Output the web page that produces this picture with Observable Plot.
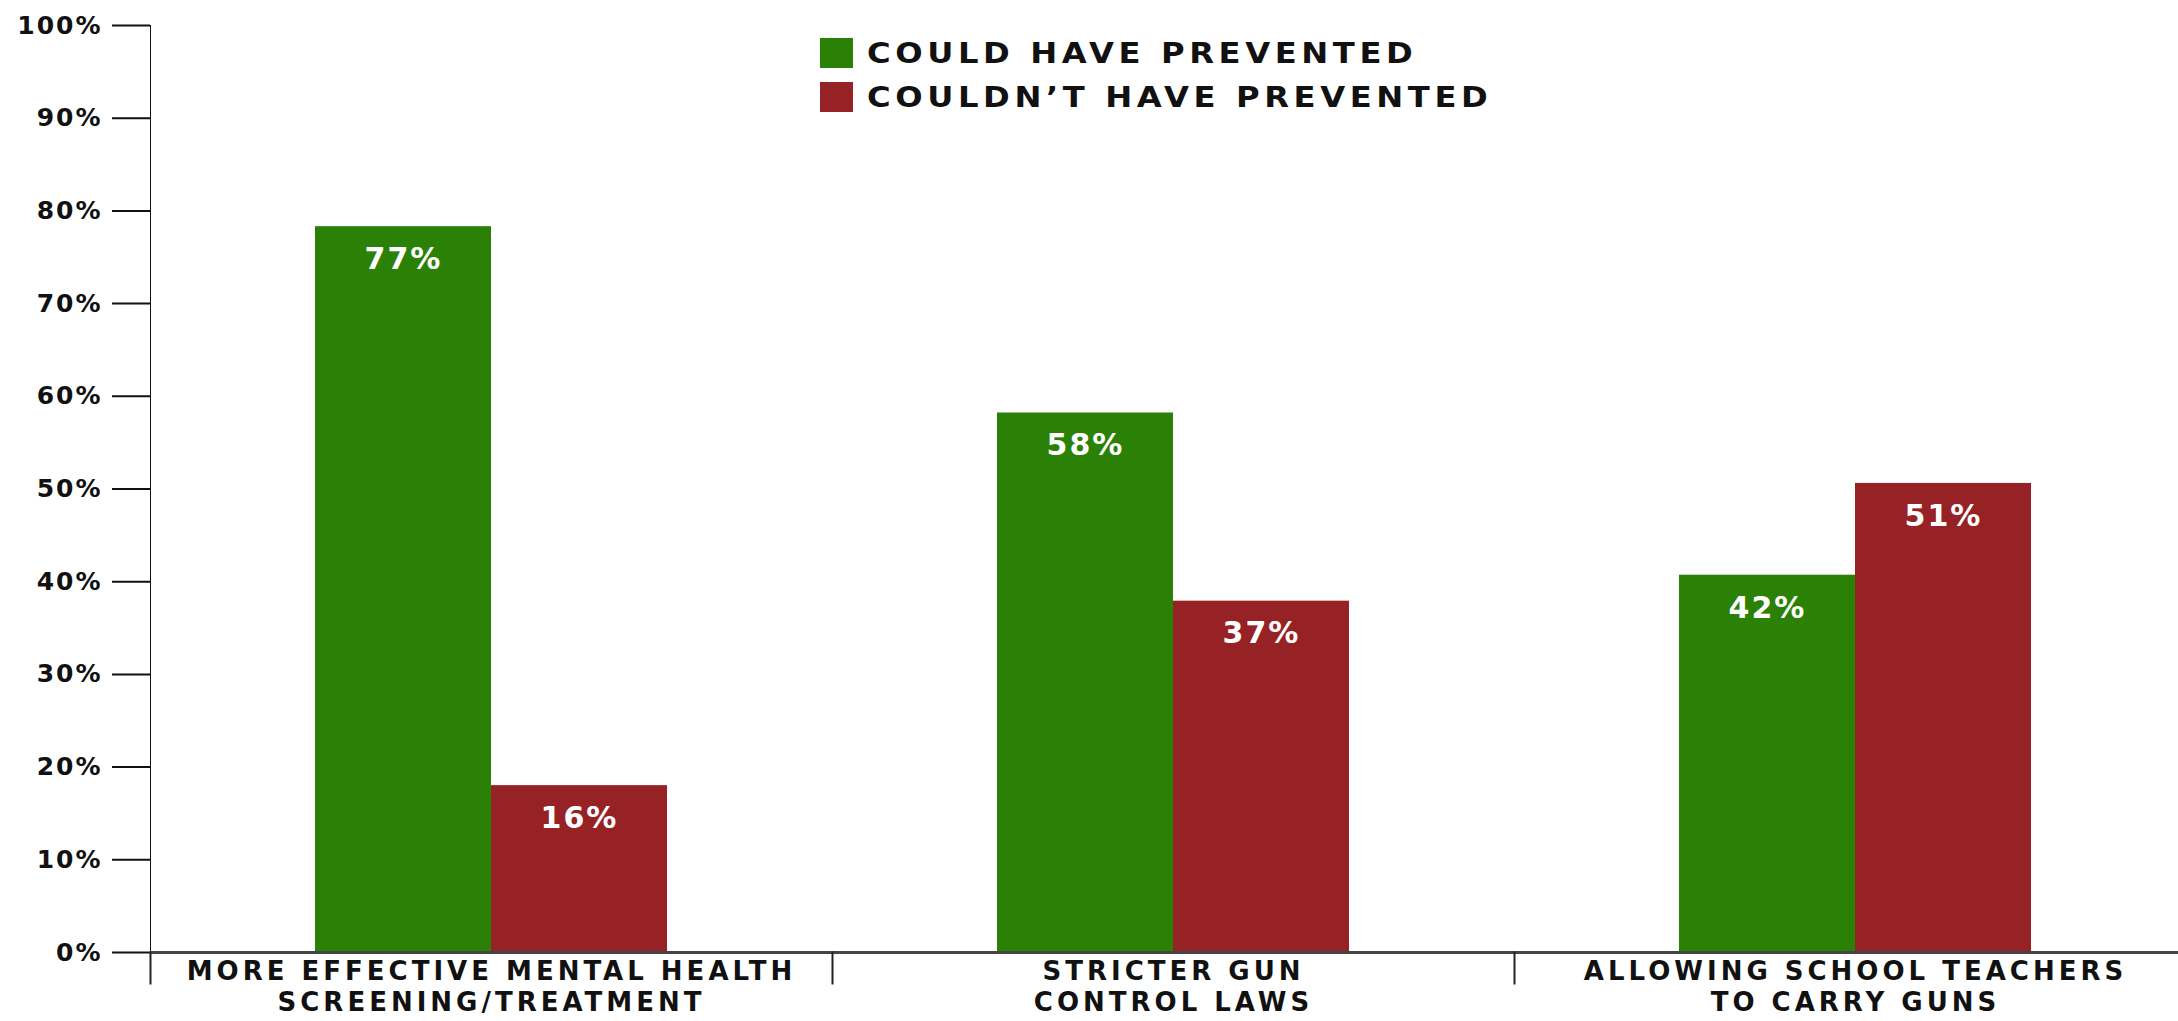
<!DOCTYPE html>
<html>
<head>
<meta charset="utf-8">
<script src="https://cdn.jsdelivr.net/npm/d3@7"></script>
<script src="https://cdn.jsdelivr.net/npm/@observablehq/plot@0.6"></script>
<style>
  html, body { margin: 0; padding: 0; background: #fff; }
  #wrap { position: relative; width: 2178px; height: 1021px; overflow: hidden; }
  #legend { position: absolute; left: 820px; top: 31px; font-family: "DejaVu Sans", sans-serif; font-weight: bold; font-size: 28px; color: #111; letter-spacing: 4px; }
  .item { display: flex; align-items: center; height: 44px; white-space: nowrap; }
  .item span { display: inline-block; transform: scaleX(1.15); transform-origin: left center; }
  .sw { width: 33px; height: 30px; margin-right: 14px; flex: none; }
  #wrap svg [aria-label^="y-axis"] { stroke-width: 2px; stroke: #222; }
  #wrap svg [aria-label="y-axis tick label"] { stroke: none; }
</style>
</head>
<body>
<div id="wrap"><div id="legend"></div></div>
<script>
// ---- data ----
const categories = [
  "MORE EFFECTIVE MENTAL HEALTH\nSCREENING/TREATMENT",
  "STRICTER GUN\nCONTROL LAWS",
  "ALLOWING SCHOOL TEACHERS\nTO CARRY GUNS"
];
const seriesNames = ["COULD HAVE PREVENTED", "COULDN\u2019T HAVE PREVENTED"];
const couldValues = [78.3, 58.2, 40.7];      // bar heights as drawn
const couldntValues = [18.0, 37.9, 50.6];    // bar heights as drawn
const couldLabels = ["77%", "58%", "42%"];   // printed labels
const couldntLabels = ["16%", "37%", "51%"];
const seriesColors = ["#2b8106", "#972225"];
const yTicks = [0, 10, 20, 30, 40, 50, 60, 70, 80, 90, 100];

const rows = categories.flatMap((c, i) => [
  {category: c, series: seriesNames[0], value: couldValues[i], label: couldLabels[i]},
  {category: c, series: seriesNames[1], value: couldntValues[i], label: couldntLabels[i]}
]);

const W = 2178, H = 1021, mT = 25, mB = 69, mL = 150;

const chart = Plot.plot({
  width: W,
  height: H,
  marginTop: mT,
  marginBottom: mB,
  marginLeft: mL,
  marginRight: 0,
  style: {fontFamily: "DejaVu Sans, sans-serif", fontWeight: "bold", fontSize: "25px", color: "#111", background: "white", letterSpacing: "2px"},
  fx: {domain: categories, padding: 0, range: [mL, 2196], axis: null},
  x: {domain: seriesNames, paddingInner: 0, paddingOuter: 0.935, axis: null},
  y: {domain: [0, 100], ticks: yTicks, tickFormat: d => d + "%", tickSize: 38, tickPadding: 10, label: null, line: true},
  color: {domain: seriesNames, range: seriesColors},
  marks: [
    Plot.barY(rows, {fx: "category", x: "series", y: "value", fill: "series"}),
    Plot.text(rows, {fx: "category", x: "series", y: "value", text: "label", fill: "white", fontSize: 30, fontWeight: "bold", lineAnchor: "top", dy: 21}),
    Plot.ruleY([0], {stroke: "#444", strokeWidth: 3}),
    Plot.frame({anchor: "left", insetTop: H - mT - mB, insetBottom: -31, stroke: "#222", strokeWidth: 2}),
    Plot.text(categories, {fx: d => d, text: d => d, frameAnchor: "bottom", lineAnchor: "top", dy: 6, lineHeight: 1.18, fontSize: 26, fill: "#111"})
  ]
});
document.getElementById("wrap").prepend(chart);
d3.select(chart).selectAll('g[font-size="26"]').style("letter-spacing", "4px");

const legend = d3.select("#legend");
seriesNames.forEach((s, i) => {
  const it = legend.append("div").attr("class", "item");
  it.append("div").attr("class", "sw").style("background", seriesColors[i]);
  it.append("span").text(s);
});
</script>
</body>
</html>
